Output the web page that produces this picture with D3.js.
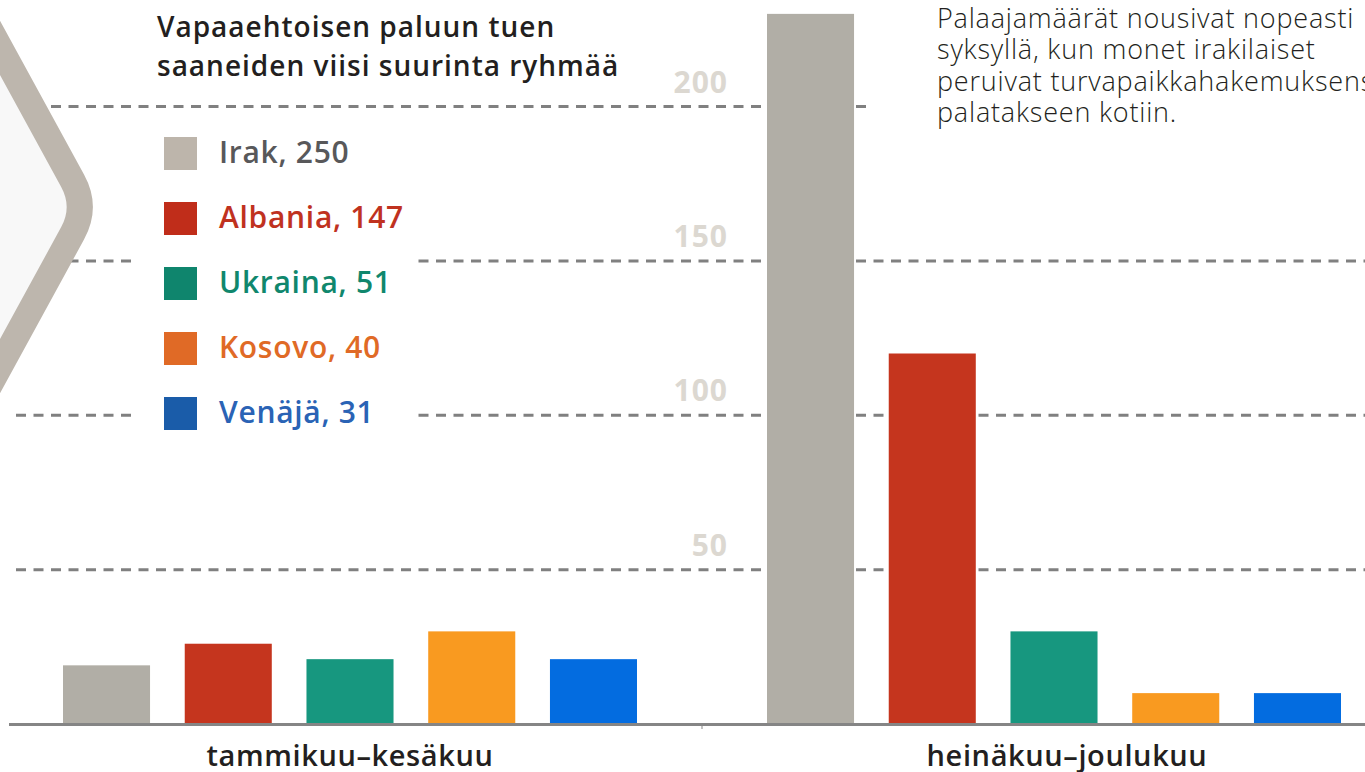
<!DOCTYPE html>
<html>
<head>
  <script src="https://d3js.org/d3.v7.min.js"></script>
  <style>
    body { margin: 0; background: #fff; font-family: "Open Sans", "Noto Sans", sans-serif; }
    .grid { stroke: #808080; stroke-width: 3px; stroke-dasharray: 10 7.5; }
    .tick-label { fill: #dcd8d1; font-weight: 700; font-size: 30px; letter-spacing: 1px; text-anchor: end; }
  </style>
</head>
<body>
  <svg width="1365" height="772"></svg>
  <script>
    const width = 1365, height = 772;

    const periods = ["tammikuu–kesäkuu", "heinäkuu–joulukuu"];
    const countries = ["Irak", "Albania", "Ukraina", "Kosovo", "Venäjä"];
    const totals = [250, 147, 51, 40, 31];
    const firstHalf = [19, 26, 21, 30, 21];
    const secondHalf = [230, 120, 30, 10, 10];
    const yTicks = [50, 100, 150, 200];

    const barColors = ["#b1aea6", "#c5351e", "#17977f", "#f99a20", "#036ce0"];
    const keyColors = ["#bdb5ab", "#c02d1a", "#0f856d", "#e06a26", "#1a5ca9"];
    const textColors = ["#58585a", "#c0321f", "#10876d", "#e06a26", "#2a63b5"];

    const svg = d3.select("svg")
      .attr("width", width)
      .attr("height", height);

    const x0 = d3.scaleBand().domain(periods).range([-2, 1406]).padding(0);
    const x1 = d3.scaleBand().domain(countries).range([65, 639]).paddingInner(0.285);
    const y = d3.scaleLinear().domain([0, 200]).range([724, 106.5]);

    // gridlines
    svg.selectAll(".grid")
      .data(yTicks)
      .enter().append("line")
      .attr("class", "grid")
      .attr("x1", 16).attr("x2", width)
      .attr("y1", d => y(d)).attr("y2", d => y(d));

    // chevron on the left
    svg.append("path")
      .attr("d", "M-37,-20 L72.6,180.7 Q87,207 72.6,233.3 L-37,434 Z")
      .attr("fill", "#f8f8f8")
      .attr("stroke", "#bdb6ad")
      .attr("stroke-width", 26);

    // white boxes behind legend and note
    svg.append("rect").attr("x", 135).attr("y", 118).attr("width", 280).attr("height", 327).attr("fill", "#fff");
    svg.append("rect").attr("x", 868).attr("y", 0).attr("width", 497).attr("height", 135).attr("fill", "#fff");

    // tick labels
    svg.selectAll(".tick-label")
      .data(yTicks)
      .enter().append("text")
      .attr("class", "tick-label")
      .attr("x", 728)
      .attr("y", d => y(d) - 14)
      .text(d => d);

    // bars
    const rows = periods.map((p, i) => ({
      period: p,
      values: countries.map((c, j) => ({ country: c, i: j, value: (i === 0 ? firstHalf : secondHalf)[j] }))
    }));

    const groups = svg.selectAll(".group")
      .data(rows)
      .enter().append("g")
      .attr("class", "group")
      .attr("transform", d => `translate(${x0(d.period)},0)`);

    groups.selectAll("rect")
      .data(d => d.values)
      .enter().append("rect")
      .attr("x", d => x1(d.country))
      .attr("y", d => y(d.value))
      .attr("width", x1.bandwidth())
      .attr("height", d => y(0) - y(d.value))
      .attr("fill", d => barColors[d.i]);

    // baseline
    svg.append("line")
      .attr("x1", 9).attr("x2", width)
      .attr("y1", y(0) + 0.5).attr("y2", y(0) + 0.5)
      .attr("stroke", "#858585").attr("stroke-width", 3);
    svg.append("line")
      .attr("x1", x0(periods[1])).attr("x2", x0(periods[1]))
      .attr("y1", y(0)).attr("y2", y(0) + 5)
      .attr("stroke", "#858585").attr("stroke-width", 1);

    // period labels
    svg.selectAll(".period")
      .data(periods)
      .enter().append("text")
      .attr("class", "period")
      .attr("x", (d, i) => x0(d) + x0.bandwidth() / 2 + (i ? 13 : 0))
      .attr("y", 766)
      .attr("text-anchor", "middle")
      .attr("fill", "#231f20")
      .attr("font-size", 29)
      .attr("font-weight", 600)
      .attr("letter-spacing", 0.6)
      .text(d => d);

    // title
    const title = svg.append("text")
      .attr("x", 157).attr("fill", "#231f20")
      .attr("font-size", 28).attr("font-weight", 600)
      .attr("letter-spacing", 1);
    title.append("tspan").attr("x", 157).attr("y", 37).text("Vapaaehtoisen paluun tuen");
    title.append("tspan").attr("x", 157).attr("y", 76).text("saaneiden viisi suurinta ryhmää");

    // legend
    const legend = svg.selectAll(".legend")
      .data(countries)
      .enter().append("g")
      .attr("class", "legend")
      .attr("transform", (d, i) => `translate(164,${137 + i * 65})`);

    legend.append("rect")
      .attr("width", 33).attr("height", 33)
      .attr("fill", (d, i) => keyColors[i]);

    legend.append("text")
      .attr("x", 55).attr("y", 26)
      .attr("font-size", 30).attr("font-weight", 600)
      .attr("letter-spacing", 0.7)
      .attr("fill", (d, i) => textColors[i])
      .text((d, i) => `${d}, ${totals[i]}`);

    // note
    const note = svg.append("text")
      .attr("fill", "#231f20")
      .attr("font-size", 27).attr("font-weight", 300)
      .attr("letter-spacing", 0.8);
    ["Palaajamäärät nousivat nopeasti",
     "syksyllä, kun monet irakilaiset",
     "peruivat turvapaikkahakemuksensa",
     "palatakseen kotiin."].forEach((t, i) => {
      note.append("tspan").attr("x", 937).attr("y", 28 + i * 31.3).text(t);
    });
  </script>
</body>
</html>
